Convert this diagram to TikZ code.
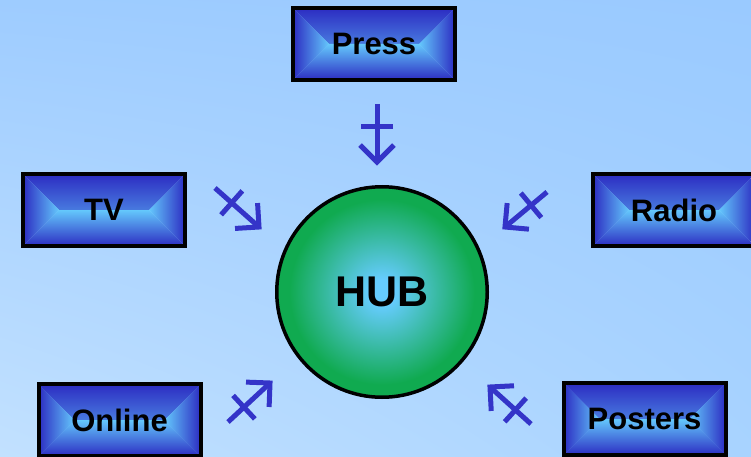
\documentclass[tikz,border=0pt]{standalone}
\usepackage{fontspec}
\setmainfont{Liberation Sans}
\usetikzlibrary{calc,shadings}

% palette
\definecolor{bgtl}{RGB}{158,204,255}
\definecolor{bgtr}{RGB}{154,202,255}
\definecolor{bgbl}{RGB}{194,225,255}
\definecolor{bgbr}{RGB}{168,211,255}
\definecolor{boxedge}{RGB}{44,44,194}
\definecolor{boxhalf}{RGB}{76,136,230}
\definecolor{boxmid}{RGB}{100,200,252}
\definecolor{hubmid}{RGB}{102,204,255}
\definecolor{hubedge}{RGB}{16,170,80}
\definecolor{feedblue}{RGB}{52,52,200}

\pgfdeclareradialshading{hubshade}{\pgfpoint{0bp}{0bp}}{%
  color(0bp)=(hubmid); color(3bp)=(hubmid); color(22bp)=(hubedge); color(50bp)=(hubedge)}

\tikzset{
  mediabox/.style={
    draw=black, line width=4pt, rectangle,
    minimum width=162pt, minimum height=72pt, inner sep=0pt,
    font=\bfseries\fontsize{31}{31}\selectfont,
    path picture={
      % four facets, each fading from the border to the central ridge
      \shade[top color=boxedge, middle color=boxhalf, bottom color=boxmid]
        (path picture bounding box.north west) -- (path picture bounding box.north east)
        -- ($(path picture bounding box.east)+(-36,0)$)
        -- ($(path picture bounding box.west)+(36,0)$) -- cycle;
      \shade[top color=boxmid, middle color=boxhalf, bottom color=boxedge]
        (path picture bounding box.south west) -- (path picture bounding box.south east)
        -- ($(path picture bounding box.east)+(-36,0)$)
        -- ($(path picture bounding box.west)+(36,0)$) -- cycle;
      \shade[left color=boxedge, middle color=boxhalf, right color=boxmid]
        (path picture bounding box.north west) -- (path picture bounding box.south west)
        -- ($(path picture bounding box.west)+(36,0)$) -- cycle;
      \shade[left color=boxmid, middle color=boxhalf, right color=boxedge]
        (path picture bounding box.north east) -- (path picture bounding box.south east)
        -- ($(path picture bounding box.east)+(-36,0)$) -- cycle;
    }},
  hubnode/.style={
    circle, draw=black, line width=3.5pt, minimum size=210.5pt, inner sep=0pt,
    shade, shading=hubshade,
    font=\bfseries\fontsize{43}{43}\selectfont},
  feed/.style={draw=feedblue, line width=5pt, line cap=butt},
}

% arrow with a crossbar on its shaft
\newcommand\hubarrow[2]{%
  \draw[feed] (#1) -- (#2);
  \draw[feed] ($(#1)!0.38!(#2)!16pt!90:(#2)$) -- ($(#1)!0.38!(#2)!16pt!-90:(#2)$);
  \draw[feed, line join=miter] ($(#2)!24pt!45:(#1)$) -- (#2) -- ($(#2)!24pt!-45:(#1)$);
}

\begin{document}
\begin{tikzpicture}[x=1pt, y=-1pt]
  \useasboundingbox (0,0) rectangle (751,457);
  \shade[upper left=bgtl, upper right=bgtr, lower left=bgbl, lower right=bgbr]
    (0,0) rectangle (751,457);

  \node[mediabox] (press)   at (374,44)    {Press};
  \node[mediabox] (tv)      at (104,210)   {TV};
  \node[mediabox] (radio)   at (674,210)   {Radio};
  \node[mediabox] (online)  at (119.5,420) {Online};
  \node[mediabox] (posters) at (644.5,419) {Posters};

  \node[hubnode] (hub) at (382,292) {HUB};

  \coordinate (pressA)   at (377,104);  \coordinate (pressB)   at (377,162);
  \coordinate (tvA)      at (215,188);  \coordinate (tvB)      at (259,227);
  \coordinate (radioA)   at (547,192);  \coordinate (radioB)   at (505,227);
  \coordinate (onlineA)  at (228,422);  \coordinate (onlineB)  at (270,383);
  \coordinate (postersA) at (531,424);  \coordinate (postersB) at (490,387);

  \hubarrow{pressA}{pressB}
  \hubarrow{tvA}{tvB}
  \hubarrow{radioA}{radioB}
  \hubarrow{onlineA}{onlineB}
  \hubarrow{postersA}{postersB}
\end{tikzpicture}
\end{document}
